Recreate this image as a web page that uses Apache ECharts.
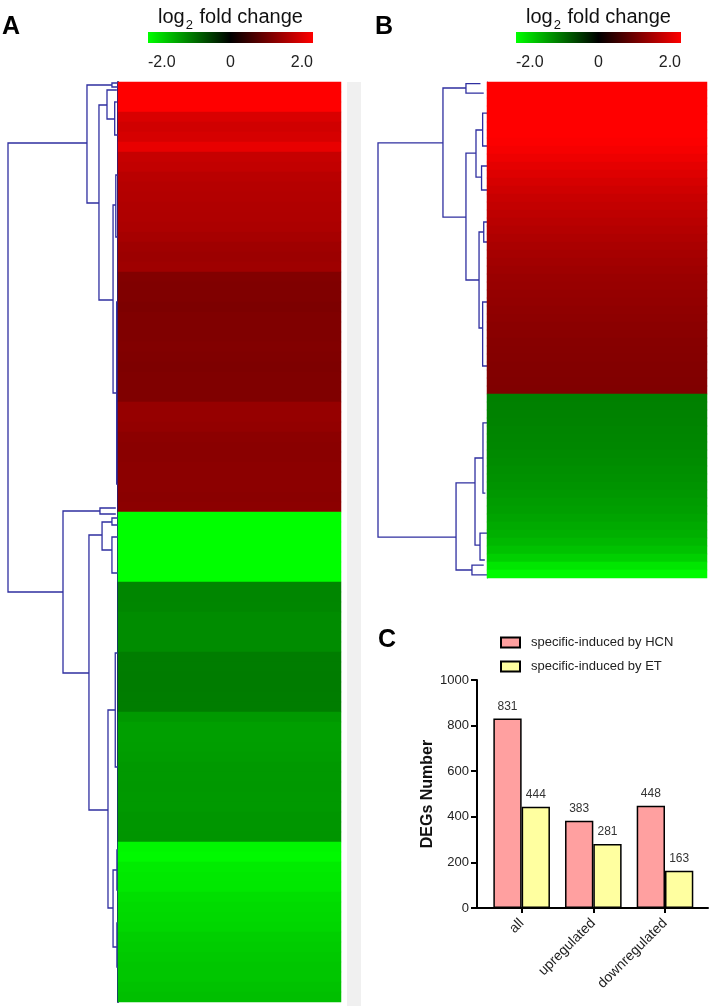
<!DOCTYPE html>
<html><head><meta charset="utf-8">
<script src="https://cdn.jsdelivr.net/npm/echarts@6/dist/echarts.min.js"></script>
<style>html,body{margin:0;padding:0;background:#fff}#c{width:709px;height:1006px}</style>
</head><body><div id="c"></div>
<script>
// ---------- data ----------
const colorScale = ['#00ff00', '#000000', '#ff0000'];
const scaleRange = [-2, 2];
const scaleTicks = [-2, 0, 2];

// Panel A heatmap: log2 fold change per row (top to bottom)
const heatA = [
  2.0, 2.0, 2.0, 1.7, 1.63, 1.68, 1.82, 1.55, 1.52, 1.45,
  1.42, 1.4, 1.38, 1.37, 1.35, 1.3, 1.25, 1.22, 1.25, 1.02,
  1.0, 1.0, 0.98, 1.0, 1.0, 1.0, 1.02, 1.0, 0.99, 1.0,
  1.0, 1.0, 1.18, 1.18, 1.15, 1.1, 1.08, 1.08, 1.1, 1.1,
  1.1, 1.08, 1.1, -2.0, -2.0, -2.0, -2.0, -2.0, -2.0, -2.0,
  -1.05, -1.05, -1.06, -1.1, -1.1, -1.1, -1.1, -0.98, -0.98, -0.97,
  -0.97, -0.98, -0.98, -1.2, -1.25, -1.25, -1.24, -1.22, -1.2, -1.2,
  -1.19, -1.2, -1.2, -1.18, -1.18, -1.17, -1.93, -1.95, -1.85, -1.83,
  -1.82, -1.75, -1.72, -1.7, -1.68, -1.62, -1.6, -1.58, -1.55, -1.55,
  -1.52, -1.5
];
// Panel B heatmap
const heatB = [
  2.0, 2.0, 2.0, 2.0, 2.0, 2.0, 2.0, 1.98, 1.93, 1.87,
  1.8, 1.74, 1.68, 1.62, 1.57, 1.53, 1.49, 1.45, 1.41, 1.37,
  1.33, 1.3, 1.27, 1.24, 1.21, 1.19, 1.17, 1.15, 1.13, 1.11,
  1.09, 1.08, 1.06, 1.05, 1.04, 1.03, 1.02, 1.01, 1.0,
  -1.0, -1.01, -1.02, -1.03, -1.04, -1.05, -1.06, -1.08, -1.1, -1.12,
  -1.14, -1.16, -1.19, -1.22, -1.25, -1.29, -1.33, -1.38, -1.44, -1.52,
  -1.63, -1.8, -1.97
];
// Dendrogram merges: [rowTop, rowBottom, heightTopChild, heightBottomChild, mergeHeight]
const dendroA = [
  [6.1, 51.0, 0.282, 0.5, 1.0],
  [0.3, 12.1, 0.055, 0.173, 0.282],
  [0.1, 0.5, 0.0, 0.0, 0.055],
  [2.3, 21.8, 0.1, 0.045, 0.173],
  [0.8, 3.7, 0.01, 0.03, 0.1],
  [2.0, 5.3, 0.01, 0.0, 0.03],
  [12.3, 31.1, 0.02, 0.012, 0.045],
  [9.3, 15.5, 0.0, 0.0, 0.02],
  [22.0, 40.2, 0.0, 0.0, 0.012],
  [42.9, 59.1, 0.164, 0.264, 0.5],
  [42.6, 43.2, 0.02, 0.02, 0.164],
  [45.3, 72.8, 0.145, 0.091, 0.264],
  [44.0, 46.8, 0.055, 0.055, 0.145],
  [43.6, 44.3, 0.0, 0.0, 0.055],
  [45.5, 49.1, 0.0, 0.0, 0.055],
  [62.8, 82.6, 0.025, 0.045, 0.091],
  [57.1, 68.5, 0.0, 0.0, 0.025],
  [78.8, 86.5, 0.01, 0.01, 0.045],
  [76.8, 80.8, 0.0, 0.0, 0.01],
  [84.1, 88.5, 0.0, 0.0, 0.01]
];
const dendroB = [
  [7.6, 56.9, 0.404, 0.284, 1.0],
  [0.75, 16.9, 0.193, 0.193, 0.404],
  [0.2, 1.4, 0.06, 0.03, 0.193],
  [8.9, 24.75, 0.101, 0.073, 0.193],
  [6.0, 11.9, 0.04, 0.05, 0.101],
  [3.9, 8.0, 0.0, 0.0, 0.04],
  [10.5, 13.5, 0.0, 0.0, 0.05],
  [18.75, 30.75, 0.03, 0.04, 0.073],
  [17.5, 20.0, 0.0, 0.0, 0.03],
  [27.5, 35.5, 0.0, 0.0, 0.04],
  [50.1, 61.0, 0.11, 0.138, 0.284],
  [47.0, 57.9, 0.037, 0.064, 0.11],
  [42.6, 51.4, 0.0, 0.015, 0.037],
  [56.4, 59.75, 0.0, 0.02, 0.064],
  [60.4, 61.6, 0.03, 0.0, 0.138]
];
// Panel C
const categories = ['all', 'upregulated', 'downregulated'];
const seriesNames = ['specific-induced by HCN', 'specific-induced by ET'];
const hcnValues = [831, 383, 448];
const etValues = [444, 281, 163];
const yTicks = [0, 200, 400, 600, 800, 1000];

// ---------- chart ----------
const FONT = 'Liberation Sans, Arial, Helvetica, sans-serif';
const chart = echarts.init(document.getElementById('c'), null, {renderer: 'canvas'});

function colorbarItem(params, api) {
  const p0 = api.coord([api.value(0), 1]);
  const p1 = api.coord([api.value(1), 0]);
  return {
    type: 'rect',
    shape: {x: p0[0], y: p0[1], width: p1[0] - p0[0], height: p1[1] - p0[1]},
    style: {fill: new echarts.graphic.LinearGradient(0, 0, 1, 0,
      colorScale.map((c, i) => ({offset: i / (colorScale.length - 1), color: c})))}
  };
}
function dendroItem(params, api) {
  const r1 = api.value(0), r2 = api.value(1), h1 = api.value(2), h2 = api.value(3), h = api.value(4);
  const pts = [api.coord([h1, r1]), api.coord([h, r1]), api.coord([h, r2]), api.coord([h2, r2])];
  return {type: 'polyline', shape: {points: pts}, style: {stroke: '#2f2fa0', lineWidth: 1.3, fill: null}};
}

const hidden = {show: false};
const fmtScale = v => (v === 0 ? '0' : v.toFixed(1));
const cbXAxis = (gi) => ({
  gridIndex: gi, type: 'value', min: scaleRange[0], max: scaleRange[1], interval: 2,
  axisLine: hidden, axisTick: hidden, splitLine: hidden,
  axisLabel: {show: true, formatter: fmtScale, fontSize: 16, color: '#222', fontFamily: FONT, margin: 12,
    alignMinLabel: 'left', alignMaxLabel: 'right'}
});
const hiddenVal = (gi, min, max, inverse) => ({
  gridIndex: gi, type: 'value', min, max, inverse: !!inverse,
  axisLine: hidden, axisTick: hidden, axisLabel: hidden, splitLine: hidden
});
const rowCats = n => Array.from({length: n}, (_, i) => String(i));
const titleText = (x) => ({
  type: 'text', x: x, y: 7, style: {text: '{a|log}{s|2}{a| fold change}', align: 'center', verticalAlign: 'top',
    rich: {a: {fontSize: 20, lineHeight: 22, verticalAlign: 'top', fill: '#111', fontFamily: FONT},
           s: {fontSize: 13, padding: [12, 1, 0, 1], verticalAlign: 'top', fill: '#111', fontFamily: FONT}}}
});
const panelLetter = (t, x, y) => ({
  type: 'text', x: x, y: y,
  style: {text: t, fontSize: 25, fontWeight: 'bold', fill: '#000', fontFamily: FONT, align: 'center', verticalAlign: 'middle'}
});

const option = {
  animation: false,
  backgroundColor: '#fff',
  textStyle: {fontFamily: FONT},
  grid: [
    {left: 148, top: 32, width: 165, height: 11},
    {left: 516, top: 32, width: 165, height: 11},
    {left: 8, top: 82, width: 110, height: 920},
    {left: 118, top: 82, width: 223, height: 920},
    {left: 378, top: 82, width: 109, height: 496},
    {left: 487, top: 82, width: 220, height: 496},
    {left: 477, top: 680, width: 231, height: 228}
  ],
  xAxis: [
    cbXAxis(0),
    cbXAxis(1),
    hiddenVal(2, 0, 1, true),
    {gridIndex: 3, type: 'category', data: [''], axisLine: hidden, axisTick: hidden, axisLabel: hidden, splitLine: hidden},
    hiddenVal(4, 0, 1, true),
    {gridIndex: 5, type: 'category', data: [''], axisLine: hidden, axisTick: hidden, axisLabel: hidden, splitLine: hidden},
    {gridIndex: 6, type: 'value', min: -0.623, max: 2.6,
      axisLine: {show: true, onZero: false, lineStyle: {color: '#000', width: 2}},
      axisTick: {show: true, customValues: [0, 1, 2], length: 5, lineStyle: {color: '#000', width: 2}},
      axisLabel: {show: true, customValues: [0, 1, 2], formatter: v => categories[Math.round(v)] || '',
        rotate: 45, fontSize: 14, color: '#222', fontFamily: FONT, margin: 13},
      splitLine: hidden}
  ],
  yAxis: [
    hiddenVal(0, 0, 1),
    hiddenVal(1, 0, 1),
    hiddenVal(2, 0, heatA.length, true),
    {gridIndex: 3, type: 'category', data: rowCats(heatA.length), inverse: true,
      axisLine: {show: true, lineStyle: {color: '#1e1e82', width: 2}}, axisTick: hidden, axisLabel: hidden, splitLine: hidden},
    hiddenVal(4, 0, heatB.length, true),
    {gridIndex: 5, type: 'category', data: rowCats(heatB.length), inverse: true,
      axisLine: {show: true, lineStyle: {color: '#4a4aa8', width: 1}}, axisTick: hidden, axisLabel: hidden, splitLine: hidden},
    {gridIndex: 6, type: 'value', min: yTicks[0], max: yTicks[yTicks.length - 1], interval: 200,
      axisLine: {show: true, onZero: false, lineStyle: {color: '#000', width: 2}},
      axisTick: {show: true, length: 6, lineStyle: {color: '#000', width: 2}},
      axisLabel: {show: true, fontSize: 13, color: '#222', fontFamily: FONT, margin: 8, formatter: v => String(v)},
      splitLine: hidden,
      name: 'DEGs Number', nameLocation: 'middle', nameGap: 41,
      nameTextStyle: {fontSize: 16, fontWeight: 'bold', color: '#111', fontFamily: FONT}}
  ],
  visualMap: {
    type: 'continuous', show: false, min: scaleRange[0], max: scaleRange[1],
    dimension: 2, seriesIndex: [3, 5], inRange: {color: colorScale}
  },
  legend: {
    data: seriesNames, orient: 'vertical', left: 500, top: 636, padding: 0,
    itemWidth: 19, itemHeight: 10, itemGap: 11, icon: 'rect',
    textStyle: {fontSize: 13, color: '#222', fontFamily: FONT, padding: [0, 0, 0, 6]}
  },
  graphic: [
    {type: 'rect', shape: {x: 347, y: 82, width: 14, height: 924}, style: {fill: '#f0f0f0'}, silent: true},
    panelLetter('A', 11, 27),
    panelLetter('B', 384, 27),
    panelLetter('C', 387, 640),
    titleText(230.5),
    titleText(598.5)
  ],
  series: [
    {type: 'custom', xAxisIndex: 0, yAxisIndex: 0, data: [scaleRange], encode: {x: [0, 1]}, renderItem: colorbarItem, silent: true},
    {type: 'custom', xAxisIndex: 1, yAxisIndex: 1, data: [scaleRange], encode: {x: [0, 1]}, renderItem: colorbarItem, silent: true},
    {type: 'custom', xAxisIndex: 2, yAxisIndex: 2, data: dendroA, encode: {x: [2, 3, 4], y: [0, 1]}, renderItem: dendroItem, silent: true},
    {type: 'heatmap', xAxisIndex: 3, yAxisIndex: 3, data: heatA.map((v, i) => [0, i, v]), silent: true, itemStyle: {borderWidth: 0}},
    {type: 'custom', xAxisIndex: 4, yAxisIndex: 4, data: dendroB, encode: {x: [2, 3, 4], y: [0, 1]}, renderItem: dendroItem, silent: true},
    {type: 'heatmap', xAxisIndex: 5, yAxisIndex: 5, data: heatB.map((v, i) => [0, i, v]), silent: true, itemStyle: {borderWidth: 0}},
    {type: 'bar', name: seriesNames[0], xAxisIndex: 6, yAxisIndex: 6, data: hcnValues.map((v, i) => [i, v]),
      barWidth: 28.3, barGap: '0%',
      itemStyle: {color: '#ffa0a0', borderColor: '#000', borderWidth: 1.5},
      label: {show: true, position: 'top', distance: 6, fontSize: 12, color: '#333', fontFamily: FONT, formatter: p => p.value[1]}},
    {type: 'bar', name: seriesNames[1], xAxisIndex: 6, yAxisIndex: 6, data: etValues.map((v, i) => [i, v]),
      barWidth: 28.3, barGap: '0%',
      itemStyle: {color: '#ffffa0', borderColor: '#000', borderWidth: 1.5},
      label: {show: true, position: 'top', distance: 6, fontSize: 12, color: '#333', fontFamily: FONT, formatter: p => p.value[1]}}
  ]
};
chart.setOption(option);
</script>
</body></html>
